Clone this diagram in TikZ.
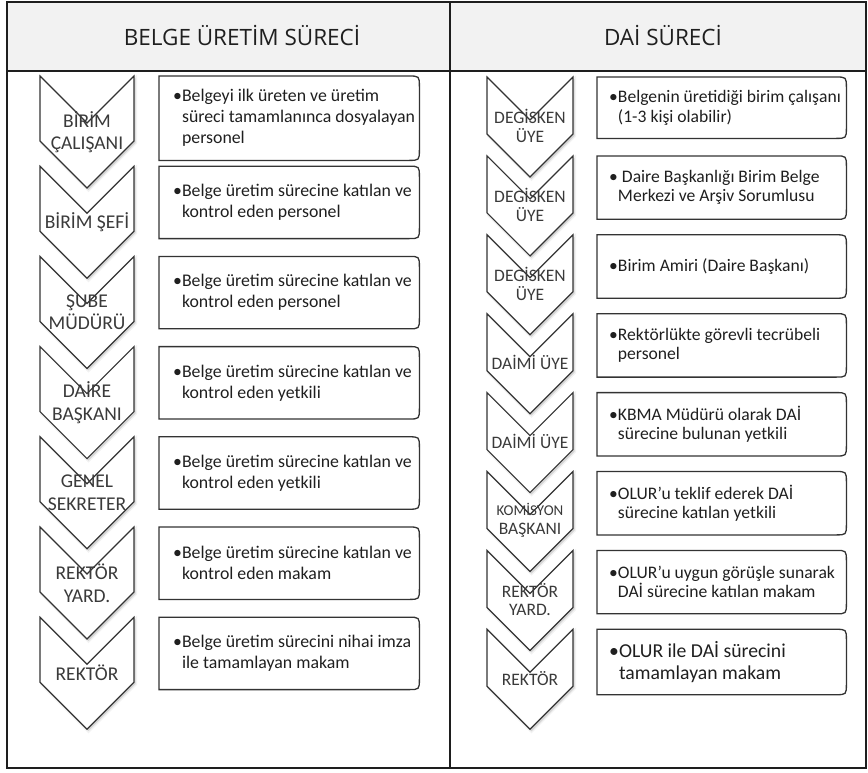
\documentclass[tikz,border=0pt]{standalone}
\usepackage{fontspec}
\setmainfont{Carlito}
\newfontfamily\headfont{Open Sans}
\usetikzlibrary{positioning}

\definecolor{headgray}{HTML}{F2F2F2}
\definecolor{rule}{HTML}{1E1E1E}
\definecolor{chevedge}{HTML}{333333}
\definecolor{labelink}{HTML}{3A3A3A}
\definecolor{noteink}{HTML}{1F1F1F}

\newcommand{\headsize}{\headfont\fontsize{22.5}{26}\selectfont}
\newcommand{\bstagesize}{\fontsize{19.5}{22.5}\selectfont}
\newcommand{\dstagesize}{\fontsize{17.5}{18.5}\selectfont}

\tikzset{
  frame/.style={draw=rule, line width=1.3pt},
  chev/.style={draw=chevedge, line width=1.2pt, fill=white, line join=miter},
  chevshade/.style={fill=black, fill opacity=0.12, draw=black, draw opacity=0.05, line width=3pt},
  stage/.style={align=center, text=labelink, inner sep=0pt},
  note/.style={inner sep=0pt, anchor=north west},
  noteedge/.style={draw=chevedge, line width=1.3pt},
  notetext/.style={align=left, text=noteink, inner sep=0pt, anchor=west},
}

\begin{document}
\begin{tikzpicture}[x=1pt, y=-1pt]
  \useasboundingbox (0,0) rectangle (868,772);

  % table frame
  \fill[headgray] (7,2) rectangle (866,71);
  \draw[frame] (7,2) rectangle (866,768);
  \draw[frame] (7,71) -- (866,71);
  \draw[frame] (450,2) -- (450,768);

  \node[font=\headsize, text=black!88] (belgehead) at (242,35) {BELGE ÜRETİM SÜRECİ};
  \node[font=\headsize, text=black!88] (daihead) at (663,35) {DAİ SÜRECİ};

  % belge uretim sureci
  \foreach \lbl/\txt/\h [count=\i from 0] in {
    {BİRİM\\ÇALIŞANI}/{•Belgeyi ilk üreten ve üretim\\\phantom{•}süreci tamamlanınca dosyalayan\\\phantom{•}personel}/84,
    {BİRİM ŞEFİ}/{•Belge üretim sürecine katılan ve\\\phantom{•}kontrol eden personel}/72,
    {ŞUBE\\MÜDÜRÜ}/{•Belge üretim sürecine katılan ve\\\phantom{•}kontrol eden personel}/72,
    {DAİRE\\BAŞKANI}/{•Belge üretim sürecine katılan ve\\\phantom{•}kontrol eden yetkili}/72,
    {GENEL\\SEKRETER}/{•Belge üretim sürecine katılan ve\\\phantom{•}kontrol eden yetkili}/72,
    {REKTÖR\\YARD.}/{•Belge üretim sürecine katılan ve\\\phantom{•}kontrol eden makam}/72,
    {REKTÖR}/{•Belge üretim sürecini nihai imza\\\phantom{•}ile tamamlayan makam}/72}
  {
    \pgfmathsetmacro\ytop{76+90.2*\i}
    \draw[chevshade, shift={(1.5,2)}] (40,\ytop) -- (87,\ytop+47) -- (134,\ytop)
      -- (134,\ytop+65) -- (87,\ytop+112) -- (40,\ytop+65) -- cycle;
    \draw[chev] (40,\ytop) -- (87,\ytop+47) -- (134,\ytop)
      -- (134,\ytop+65) -- (87,\ytop+112) -- (40,\ytop+65) -- cycle;
    \node[stage, font=\bstagesize] (bstage\i) at (87,\ytop+56) {\lbl};

    \node[note, minimum width=260pt, minimum height=\h pt] (bnote\i) at (159,\ytop) {};
    \draw[noteedge] (bnote\i.north west) -- ([xshift=-11pt]bnote\i.north east)
      .. controls (bnote\i.north east) .. ([yshift=-11pt]bnote\i.north east)
      -- ([yshift=11pt]bnote\i.south east)
      .. controls (bnote\i.south east) .. ([xshift=-11pt]bnote\i.south east)
      -- (bnote\i.south west) -- cycle;
    \node[notetext, font=\fontsize{17.8}{21}\selectfont] (btext\i)
      at ([xshift=14pt]bnote\i.west) {\txt};
  }

  % dai sureci
  \foreach \lbl/\txt/\h/\fs [count=\i from 0] in {
    {DEGİSKEN\\ÜYE}/{•Belgenin üretidiği birim çalışanı\\\phantom{•}(1-3 kişi olabilir)}/61/17.6,
    {DEGİSKEN\\ÜYE}/{• Daire Başkanlığı Birim Belge\\\phantom{•}Merkezi ve Arşiv Sorumlusu}/63/17.6,
    {DEGİSKEN\\ÜYE}/{•Birim Amiri (Daire Başkanı)}/63/17.6,
    {DAİMİ ÜYE}/{•Rektörlükte görevli tecrübeli\\\phantom{•}personel}/63/17.6,
    {DAİMİ ÜYE}/{•KBMA Müdürü olarak DAİ\\\phantom{•}sürecine bulunan yetkili}/63/17.6,
    {{\fontsize{15}{16}\selectfont KOMİSYON}\\BAŞKANI}/{•OLUR'u teklif ederek DAİ\\\phantom{•}sürecine katılan yetkili}/63/17.6,
    {REKTÖR\\YARD.}/{•OLUR'u uygun görüşle sunarak\\\phantom{•}DAİ sürecine katılan makam}/63/17.6,
    {REKTÖR}/{•OLUR ile DAİ sürecini\\\phantom{•}tamamlayan makam}/65/19.7}
  {
    \pgfmathsetmacro\ytop{77+78.9*\i}
    \pgfmathsetmacro\bs{\fs*1.1}
    \draw[chevshade, shift={(1.5,2)}] (487,\ytop) -- (530,\ytop+43) -- (573,\ytop)
      -- (573,\ytop+57) -- (530,\ytop+100) -- (487,\ytop+57) -- cycle;
    \draw[chev] (487,\ytop) -- (530,\ytop+43) -- (573,\ytop)
      -- (573,\ytop+57) -- (530,\ytop+100) -- (487,\ytop+57) -- cycle;
    \node[stage, font=\dstagesize] (dstage\i) at (530,\ytop+49) {\lbl};

    \node[note, minimum width=249pt, minimum height=\h pt] (dnote\i) at (597,\ytop) {};
    \draw[noteedge] (dnote\i.north west) -- ([xshift=-11pt]dnote\i.north east)
      .. controls (dnote\i.north east) .. ([yshift=-11pt]dnote\i.north east)
      -- ([yshift=11pt]dnote\i.south east)
      .. controls (dnote\i.south east) .. ([xshift=-11pt]dnote\i.south east)
      -- (dnote\i.south west) -- cycle;
    \node[notetext, font=\fontsize{\fs}{\bs}\selectfont] (dtext\i)
      at ([xshift=12pt]dnote\i.west) {\txt};
  }
\end{tikzpicture}
\end{document}
